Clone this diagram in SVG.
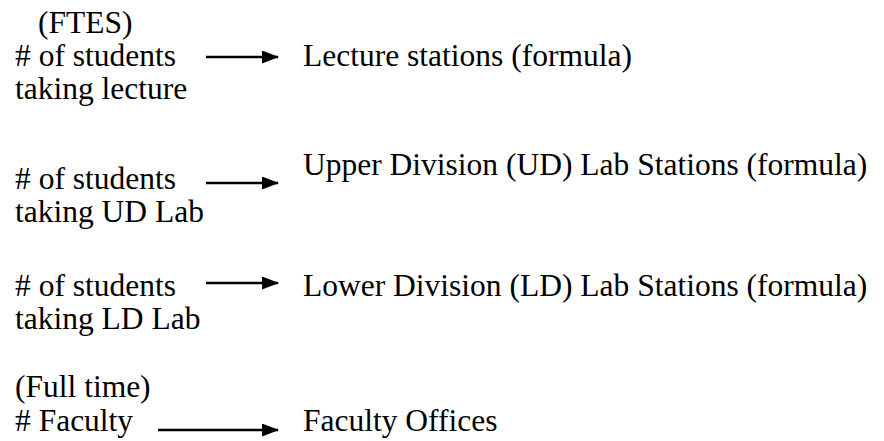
<svg xmlns="http://www.w3.org/2000/svg" width="884" height="441" viewBox="0 0 884 441">
<style>
text{font-family:"Liberation Serif","Times New Roman",serif;font-size:31.5px;fill:#000}
.c{stroke:#000;stroke-width:2.5;fill:none}
</style>
<defs>
<marker id="ah" viewBox="0 0 17 13" refX="16" refY="6.5" markerWidth="17" markerHeight="13" markerUnits="userSpaceOnUse" orient="auto">
<path d="M0,0 L17,6.5 L0,13 Z" fill="#000"/>
</marker>
</defs>
<rect width="884" height="441" fill="#fff"/>
<g id="connectors">
<line class="c" x1="206" y1="57" x2="278" y2="57" marker-end="url(#ah)"/>
<line class="c" x1="206" y1="183" x2="278" y2="183" marker-end="url(#ah)"/>
<line class="c" x1="206" y1="283" x2="278" y2="283" marker-end="url(#ah)"/>
<line class="c" x1="158" y1="430" x2="278" y2="430" marker-end="url(#ah)"/>
</g>
<g id="n1"><text x="38" y="33">(FTES)</text><text x="15" y="66"># of students</text><text x="15" y="99">taking lecture</text></g>
<g id="t1"><text x="303" y="66">Lecture stations (formula)</text></g>
<g id="n2"><text x="15" y="189"># of students</text><text x="15" y="222">taking UD Lab</text></g>
<g id="t2"><text x="303" y="175">Upper Division (UD) Lab Stations (formula)</text></g>
<g id="n3"><text x="15" y="296"># of students</text><text x="15" y="329">taking LD Lab</text></g>
<g id="t3"><text x="303" y="296">Lower Division (LD) Lab Stations (formula)</text></g>
<g id="n4"><text x="15" y="397">(Full time)</text><text x="15" y="431"># Faculty</text></g>
<g id="t4"><text x="303" y="431">Faculty Offices</text></g>
</svg>
